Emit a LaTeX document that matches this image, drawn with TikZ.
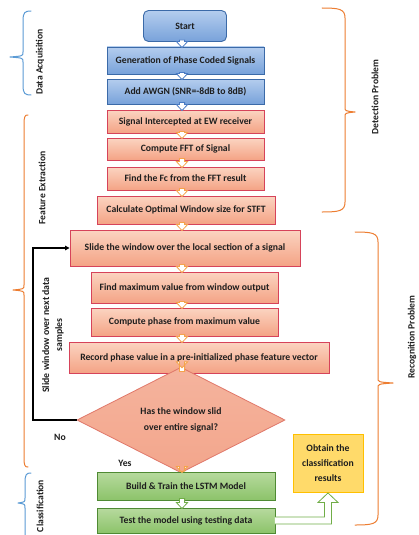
\documentclass[tikz,border=0pt]{standalone}
\usepackage{fontspec}
\setmainfont{Carlito}
\usetikzlibrary{shapes.geometric,calc,arrows.meta}

\definecolor{blueTop}{HTML}{B4CDEE}
\definecolor{blueBot}{HTML}{78A2DA}
\definecolor{blueLine}{HTML}{3B6AA8}
\definecolor{salTop}{HTML}{FBD4C1}
\definecolor{salBot}{HTML}{F4A385}
\definecolor{salLine}{HTML}{D6435A}
\definecolor{diaFill}{HTML}{F3A68C}
\definecolor{diaLine}{HTML}{E0786A}
\definecolor{grnTop}{HTML}{B7DA9E}
\definecolor{grnBot}{HTML}{8CC36A}
\definecolor{grnLine}{HTML}{4F8A33}
\definecolor{ylwFill}{HTML}{FFDA6A}
\definecolor{ylwLine}{HTML}{FFC000}
\definecolor{braceBlue}{HTML}{5B9BD5}
\definecolor{braceOrange}{HTML}{ED7D31}
\definecolor{arrOrange}{HTML}{F5A34B}
\definecolor{arrBlue}{HTML}{4A7BC4}
\definecolor{arrGreen}{HTML}{70AD47}
\definecolor{ink}{HTML}{1E1E1E}

\tikzset{
  box/.style={rectangle, draw, line width=0.9pt, align=center, inner sep=1pt,
    font=\fontsize{9.7}{11.5}\selectfont\bfseries, text=ink},
  bluebox/.style={box, draw=blueLine, top color=blueTop, bottom color=blueBot},
  salbox/.style={box, draw=salLine, top color=salTop, bottom color=salBot},
  grnbox/.style={box, draw=grnLine, top color=grnTop, bottom color=grnBot},
  sidelabel/.style={rotate=90, align=center, font=\fontsize{9.6}{12}\selectfont\bfseries, text=ink},
  plainlabel/.style={font=\fontsize{9.7}{11}\selectfont\bfseries, text=ink},
  bracestyle/.style={line width=1pt, line cap=round, line join=round},
}

% hollow block arrow between two stacked nodes, along the spine
\newcommand{\flowarrow}[3]{%
  \draw[line width=0.8pt, draw=#3, fill=white, line join=miter]
    ($(#1.south -| spine)+(-2.6,-2)$) -- ($(#2.north -| spine)+(-2.6,-5)$)
    -- ($(#2.north -| spine)+(-5.6,-5)$) -- ($(#2.north -| spine)+(0,1)$)
    -- ($(#2.north -| spine)+(5.6,-5)$) -- ($(#2.north -| spine)+(2.6,-5)$)
    -- ($(#1.south -| spine)+(2.6,-2)$) -- cycle;}

% curly bracket: colour, x of ends, x of spine, x of tip, y top, y middle, y bottom
\newcommand{\sidebrace}[7]{%
  \draw[bracestyle, #1] (#2,#5) .. controls ({#3+0.25*(#2-#3)},#5) and (#3,#5+1) .. (#3,#5+10)
    -- (#3,#6-5) .. controls (#3,#6-1) .. (#4,#6) .. controls (#3,#6+1) .. (#3,#6+5)
    -- (#3,#7-10) .. controls (#3,#7-1) and ({#3+0.25*(#2-#3)},#7) .. (#2,#7);}

\begin{document}
\begin{tikzpicture}[x=1pt, y=-1pt]
  \useasboundingbox[fill=white] (0,0) rectangle (419,535);
  \coordinate (spine) at (182,0);

  % main flow
  \node[bluebox, rounded corners=5pt, minimum width=83pt, minimum height=31pt] (start) at (185,26) {Start};
  \node[bluebox, minimum width=157pt, minimum height=27pt] (gen) at (185.5,60.5) {Generation of Phase Coded Signals};
  \node[bluebox, minimum width=157pt, minimum height=25pt] (awgn) at (185.5,91.5) {Add AWGN (SNR=-8dB to 8dB)};
  \node[salbox, minimum width=157pt, minimum height=23pt] (icpt) at (185.5,121.5) {Signal Intercepted at EW receiver};
  \node[salbox, minimum width=157pt, minimum height=22pt] (fft) at (185.5,149) {Compute FFT of Signal};
  \node[salbox, minimum width=157pt, minimum height=23pt] (fc) at (185.5,178.5) {Find the Fc from the FFT result};
  \node[salbox, minimum width=178pt, minimum height=28pt] (win) at (186,210) {Calculate Optimal Window size for STFT};
  \node[salbox, minimum width=230pt, minimum height=36pt] (slide) at (185,248) {Slide the window over the local section of a signal};
  \node[salbox, minimum width=187pt, minimum height=31pt] (maxv) at (184.5,287.5) {Find maximum value from window output};
  \node[salbox, minimum width=187pt, minimum height=28pt] (phase) at (184.5,322) {Compute phase from maximum value};
  \node[salbox, minimum width=260pt, minimum height=31pt] (record) at (199,357.5) {Record phase value in a pre-initialized phase feature vector};
  \node[diamond, draw=diaLine, line width=0.8pt, top color=diaFill!85!white, bottom color=diaFill,
        minimum width=208pt, minimum height=94pt, inner sep=0pt, align=center,
        font=\fontsize{9.7}{16}\selectfont\bfseries, text=ink] (decide) at (181,420)
        {Has the window slid\\over entire signal?};
  \node[grnbox, minimum width=178pt, minimum height=28pt] (train) at (186,486) {Build \& Train the LSTM Model};
  \node[grnbox, minimum width=178pt, minimum height=25pt] (test) at (186,520.5) {Test the model using testing data};
  \node[box, draw=ylwLine, fill=ylwFill, minimum width=70pt, minimum height=58pt,
        font=\fontsize{9.7}{15}\selectfont\bfseries] (result) at (328,463)
        {Obtain the\\classification\\results};

  % block arrows
  \flowarrow{start}{gen}{arrBlue}
  \flowarrow{gen}{awgn}{arrBlue}
  \flowarrow{awgn}{icpt}{arrBlue}
  \flowarrow{icpt}{fft}{arrOrange}
  \flowarrow{fft}{fc}{arrOrange}
  \flowarrow{fc}{win}{arrOrange}
  \flowarrow{win}{slide}{arrOrange}
  \flowarrow{slide}{maxv}{arrOrange}
  \flowarrow{maxv}{phase}{arrOrange}
  \flowarrow{phase}{record}{arrOrange}
  \flowarrow{record}{decide}{arrOrange}
  \flowarrow{decide}{train}{arrOrange}
  \flowarrow{train}{test}{arrGreen}

  % hollow arrow from the test box up to the results box
  \coordinate (ta) at ($(test.east)+(-0.5,-3.5)$);
  \coordinate (tb) at ($(test.east)+(-0.5,3.5)$);
  \coordinate (ra) at ($(result.south)+(-3.5,10)$);
  \coordinate (rb) at ($(result.south)+(3.5,10)$);
  \draw[line width=0.8pt, draw=arrGreen, fill=white, line join=miter]
    (ta) -- (ta -| ra) -- (ra) -- ($(ra)+(-6.5,0)$) -- ($(result.south)+(0,0.5)$)
    -- ($(rb)+(6.5,0)$) -- (rb) -- (tb -| rb) -- (tb);

  % loop back for the next window
  \coordinate (loopcorner) at (33,248);
  \draw[line width=1.2pt, -{Triangle[length=4.5pt,width=4.5pt]}]
    (decide.west) -| (loopcorner) -- (slide.west);
  \node[sidelabel, font=\fontsize{9.8}{13}\selectfont\bfseries] (looplbl) at (53,335) {Slide window over next data\\samples};
  \node[plainlabel] (nolbl) at (60,437) {No};
  \node[plainlabel] (yeslbl) at (125,463) {Yes};

  % stage brackets on the left
  \sidebrace{braceBlue}{31}{23}{10}{11}{57}{95}
  \node[sidelabel] (acq) at (40,62) {Data Acquisition};
  \sidebrace{braceOrange}{28}{24}{13}{115}{290}{467}
  \node[sidelabel] (feat) at (42,188) {Feature Extraction};
  \sidebrace{braceBlue}{31}{25}{18}{473}{503}{548}
  \node[sidelabel] (cls) at (40,506) {Classification};

  % problem brackets on the right
  \sidebrace{braceOrange}{322}{345}{355}{8}{112}{212}
  \node[sidelabel] (det) at (375,97) {Detection Problem};
  \sidebrace{braceOrange}{355}{378}{393}{232}{383}{525}
  \node[sidelabel] (rec) at (412,337) {Recognition Problem};
\end{tikzpicture}
\end{document}
